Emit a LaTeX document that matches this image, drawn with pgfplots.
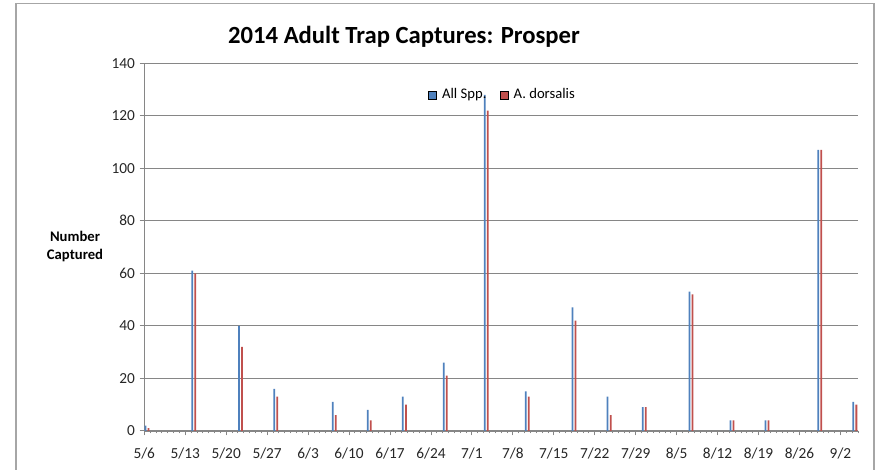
\documentclass[border=0pt]{standalone}
\usepackage{fontspec}
\setmainfont{Carlito}
\usepackage{pgfplots}
\usepackage{pgfplotstable}
\pgfplotsset{compat=1.18}
\definecolor{bblue}{HTML}{4F81BD}
\definecolor{rred}{HTML}{C0504D}
\definecolor{gridgray}{RGB}{134,134,134}
\pgfplotstableread{
idx blue red
0 2 1
8 61 60
16 40 32
22 16 13
32 11 6
38 8 4
44 13 10
51 26 21
58 128 122
65 15 13
73 47 42
79 13 6
85 9 9
93 53 52
100 4 4
106 4 4
115 107 107
121 11 10
}\datatable
\begin{document}
\begin{tikzpicture}[x=0.75pt,y=0.75pt]
\useasboundingbox (0,0) rectangle (880,470);
\draw[black!35, line width=1.2pt] (16,-20) -- (16,466.5) -- (874,466.5) -- (874,-20);
\node[font=\bfseries\fontsize{18.5}{22}\selectfont] at (404,433) {2014 Adult Trap Captures: Prosper};
\node[font=\bfseries\fontsize{11}{13.5}\selectfont, align=center] at (75,223) {Number\\Captured};
\begin{axis}[
  at={(108.2pt,29.4pt)}, anchor=south west,
  scale only axis, width=535.3pt, height=275.6pt,
  xmin=0, xmax=122, ymin=0, ymax=140,
  axis x line=bottom, axis y line=left,
  axis line style={gridgray, -},
  xtick={0,7,...,119},
  xticklabels={5/6,5/13,5/20,5/27,6/3,6/10,6/17,6/24,7/1,7/8,7/15,7/22,7/29,8/5,8/12,8/19,8/26,9/2},
  minor xtick={0,1,...,122},
  ytick={0,20,...,140},
  ymajorgrids, grid style={gridgray, line width=0.6pt},
  tick align=outside, major tick length=3.5pt, minor tick length=2pt,
  tick style={gridgray, line width=0.6pt},
  ticklabel style={font=\fontsize{11.5}{13}\selectfont, text=black!85},
  xticklabel style={yshift=-6pt},
  /pgf/number format/assume math mode=true,
  legend style={at={(axis cs:61.3,128)}, anchor=center, draw=none, fill=none,
    legend columns=2, font=\fontsize{11}{13}\selectfont,
    /tikz/every odd column/.append style={column sep=2pt},
    /tikz/every even column/.append style={column sep=8pt}},
  legend image code/.code={\draw[#1] (0pt,-3pt) rectangle (6pt,3pt);},
]
\addplot[ybar, bar width=0.3, bar shift=-0.26, fill=bblue, draw=none] table[x expr=\thisrow{idx}+0.46, y=blue] {\datatable};
\addlegendentry{All Spp.}
\addplot[ybar, bar width=0.3, bar shift=0.26, fill=rred, draw=none] table[x expr=\thisrow{idx}+0.46, y=red] {\datatable};
\addlegendentry{A. dorsalis}
\end{axis}
\end{tikzpicture}
\end{document}
